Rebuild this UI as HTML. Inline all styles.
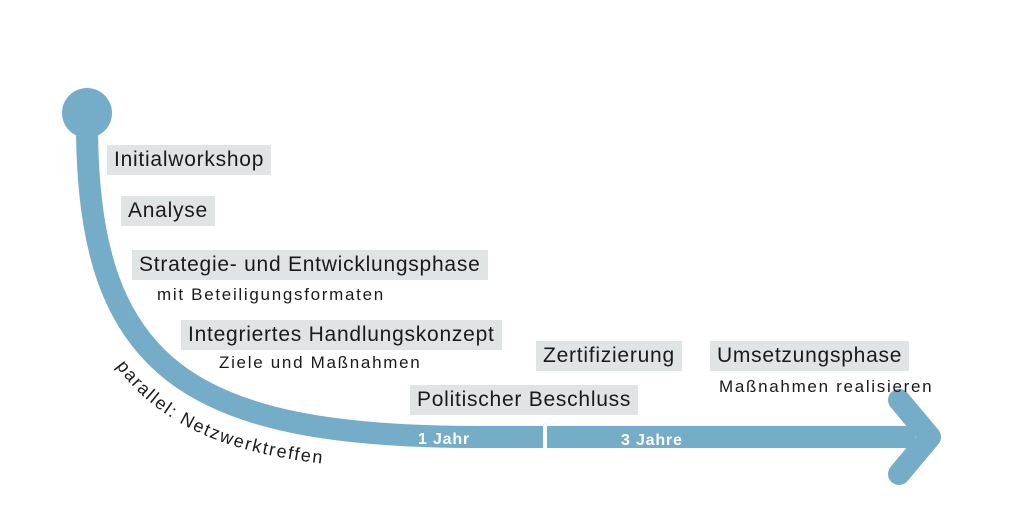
<!DOCTYPE html>
<html><head><meta charset="utf-8"><style>
html,body{margin:0;padding:0;background:#fff;}
body{width:1024px;height:526px;position:relative;overflow:hidden;font-family:"Liberation Sans","DejaVu Sans",sans-serif;color:#1a1a1a;}
.b{position:absolute;background:#e1e4e5;font-size:21px;letter-spacing:0.75px;height:30px;line-height:30px;padding:0 7px;white-space:nowrap;}
.s{position:absolute;font-size:17px;letter-spacing:1.7px;white-space:nowrap;}
svg{position:absolute;left:0;top:0;}
</style></head><body>
<svg width="1024" height="526">
<circle cx="87" cy="113" r="25" fill="#75adc9"/>
<path d="M87,125 C87,370 190,437 480,437 L915,437" fill="none" stroke="#75adc9" stroke-width="22"/>
<path d="M899,400 L930,437 L899,474" fill="none" stroke="#75adc9" stroke-width="22" stroke-linecap="round" stroke-linejoin="round"/>
<rect x="543" y="420" width="4" height="34" fill="#fff"/>
<text x="418" y="444" fill="#fff" font-size="16" font-weight="bold" letter-spacing="0.8" font-family="Liberation Sans, sans-serif">1 Jahr</text>
<text x="621" y="445" fill="#fff" font-size="16" font-weight="bold" letter-spacing="0.8" font-family="Liberation Sans, sans-serif">3 Jahre</text>
<path id="p" d="M116,366 C160,425 225,455 345,466" fill="none"/>
<text font-size="18" letter-spacing="1.7" fill="#1a1a1a" font-family="Liberation Sans, sans-serif"><textPath href="#p">parallel: Netzwerktreffen</textPath></text>
</svg>
<div class="b" style="left:107px;top:145px;">Initialworkshop</div>
<div class="b" style="left:121px;top:196px;">Analyse</div>
<div class="b" style="left:132px;top:250px;">Strategie- und Entwicklungsphase</div>
<div class="s" style="left:157px;top:285px;">mit Beteiligungsformaten</div>
<div class="b" style="left:181px;top:320px;">Integriertes Handlungskonzept</div>
<div class="s" style="left:219px;top:353px;">Ziele und Maßnahmen</div>
<div class="b" style="left:410px;top:385px;">Politischer Beschluss</div>
<div class="b" style="left:536px;top:341px;">Zertifizierung</div>
<div class="b" style="left:710px;top:341px;">Umsetzungsphase</div>
<div class="s" style="left:719px;top:377px;">Maßnahmen realisieren</div>
</body></html>
